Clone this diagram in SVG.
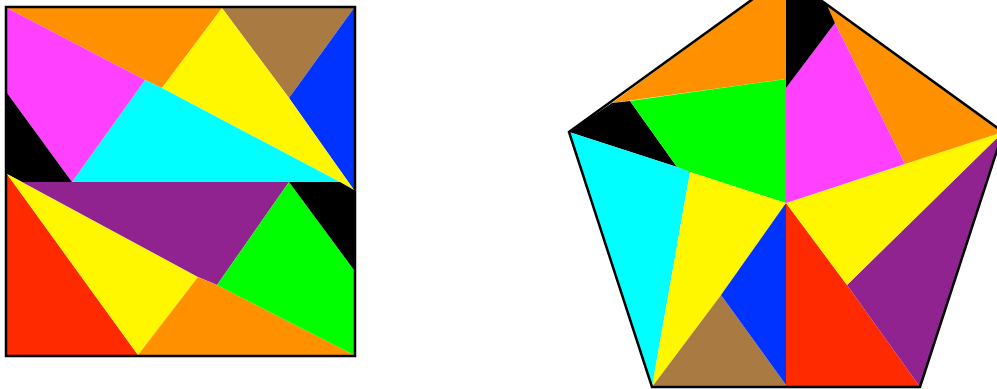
<svg xmlns="http://www.w3.org/2000/svg" width="997" height="389" viewBox="0 0 997 389">
<style>
.or{fill:#FF9100}.ye{fill:#FFF700}.br{fill:#A97A42}.bl{fill:#0033FF}.mg{fill:#FF40FF}.cy{fill:#00FFFF}.bk{fill:#000000}.pu{fill:#912391}.rd{fill:#FF2A00}.gr{fill:#00FF00}
.outline{fill:none;stroke:#000000;stroke-width:2.5;stroke-linejoin:miter}
</style>
<rect x="0" y="0" width="997" height="389" fill="#FFFFFF"/>
<g id="square">
<polygon class="or" points="7,8 222,8 162,88 145,80"/>
<polygon class="br" points="222,8 354,8 289,98"/>
<polygon class="bl" points="354,8 354,190 289,98"/>
<polygon class="ye" points="222,8 289,98 354,190 340,182 162,88"/>
<polygon class="cy" points="145,80 162,88 340,182 72,182"/>
<polygon class="mg" points="7,8 145,80 72,182 7,93"/>
<polygon class="bk" points="7,93 72,182 22,182 7,174"/>
<polygon class="rd" points="7,174 138,355 7,355"/>
<polygon class="ye" points="7,174 198,277 138,355"/>
<polygon class="pu" points="22,182 289,182 217,285 198,277"/>
<polygon class="or" points="138,355 198,277 217,285 354,355"/>
<polygon class="gr" points="289,182 354,270 354,355 217,285"/>
<polygon class="bk" points="289,182 340,182 354,190 354,270"/>
<rect class="outline" x="6" y="7" width="349" height="349"/>
</g>
<g id="pentagon">
<polygon class="or" points="612,103 786,-25 786,79"/>
<polygon class="bk" points="569,132 612,103 630,101 677,167"/>
<polygon class="gr" points="630,101 786,79 786,203 690,172 677,167"/>
<polygon class="cy" points="569,132 677,167 690,172 652,387"/>
<polygon class="ye" points="690,172 786,203 721,295 652,387"/>
<polygon class="br" points="652,387 721,295 786,385 786,387"/>
<polygon class="bl" points="786,203 786,385 721,295"/>
<polygon class="rd" points="786,203 847,285 920,387 786,387"/>
<polygon class="pu" points="847,285 1003,132 920,387"/>
<polygon class="ye" points="786,203 1003,132 847,285"/>
<polygon class="or" points="827,5 1003,132 905,164 835,23"/>
<polygon class="mg" points="835,23 905,164 786,203 786,88"/>
<polygon class="bk" points="786,-25 827,5 835,23 786,88"/>
<polygon class="outline" points="786,-25 1003,132 920,387 652,387 569,132"/>
</g>
</svg>
